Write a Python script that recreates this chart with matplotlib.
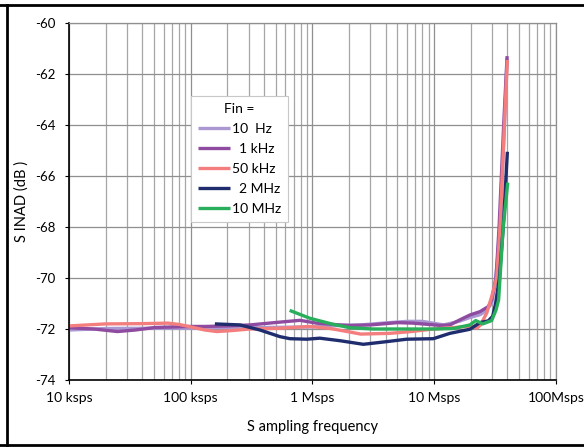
import matplotlib
matplotlib.use("Agg")
import matplotlib.pyplot as plt
from matplotlib.lines import Line2D
from matplotlib.ticker import FixedLocator, LogLocator, NullFormatter

plt.rcParams['font.family'] = ['Lato', 'DejaVu Sans']

# Sampling frequency (sps) and SINAD (dB) for each input frequency
fs_10hz = [10e3, 20e3, 50e3, 100e3, 131e3, 300e3, 600e3, 1e6, 1.7e6, 2.5e6, 4e6,
           6e6, 8e6, 12e6, 16e6, 19.7e6, 23.8e6, 26.6e6, 29.7e6, 31.5e6, 33e6,
           35e6, 37.5e6, 39.8e6]
db_10hz = [-72.04, -71.98, -71.97, -71.97, -71.95, -71.95, -71.93, -71.92, -71.86,
           -71.84, -71.76, -71.7, -71.7, -71.84, -71.7, -71.55, -71.44, -71.3,
           -71.0, -70.3, -69.4, -67.8, -64.5, -61.4]

fs_1khz = [10e3, 16e3, 25e3, 35e3, 51e3, 96e3, 131e3, 200e3, 307e3, 541e3, 791e3,
           1.08e6, 1.69e6, 2.04e6, 3e6, 5e6, 6.7e6, 9e6, 11.2e6, 13.5e6, 16.3e6,
           19.7e6, 23.8e6, 27.9e6, 29.7e6, 32.3e6, 34.2e6, 37.3e6, 39.8e6]
db_1khz = [-71.95, -72.0, -72.1, -72.04, -71.94, -71.9, -71.9, -71.88, -71.84,
           -71.73, -71.66, -71.77, -71.84, -71.86, -71.84, -71.75, -71.77, -71.82,
           -71.86, -71.84, -71.64, -71.45, -71.32, -71.12, -70.86, -70.0, -68.0,
           -64.0, -61.3]

fs_50khz = [10e3, 20e3, 40e3, 65e3, 80e3, 96e3, 131e3, 164e3, 220e3, 307e3, 541e3,
            955e3, 1.4e6, 2.04e6, 2.5e6, 4.34e6, 6.5e6, 9.85e6, 14e6, 18.5e6,
            20.5e6, 22.4e6, 24e6, 27.1e6, 29.7e6, 32.7e6, 34.8e6, 37.8e6, 40e6]
db_50khz = [-71.88, -71.8, -71.79, -71.77, -71.82, -71.9, -72.04, -72.1, -72.06,
            -72.0, -71.97, -71.9, -71.98, -72.12, -72.2, -72.17, -72.1, -72.0,
            -71.95, -71.9, -71.88, -71.97, -71.85, -71.37, -70.73, -70.0, -68.0,
            -64.0, -61.45]

fs_2mhz = [158e3, 254e3, 371e3, 541e3, 654e3, 900e3, 1.15e6, 1.69e6, 2.62e6,
           4e6, 5.96e6, 9.85e6, 13.5e6, 19.7e6, 23.8e6, 27.9e6, 30.3e6, 32e6,
           34.4e6, 37e6, 40e6]
db_2mhz = [-71.8, -71.84, -72.04, -72.3, -72.38, -72.4, -72.36, -72.46, -72.6,
           -72.5, -72.4, -72.38, -72.17, -72.01, -71.75, -71.68, -71.5, -71.0,
           -70.0, -68.0, -65.05]

fs_10mhz = [650e3, 955e3, 1.49e6, 2.04e6, 3.16e6, 9.85e6, 14.4e6, 19.7e6, 22e6,
            25.1e6, 29.7e6, 32.3e6, 33.9e6, 34.8e6, 37e6, 40.3e6]
db_10mhz = [-71.27, -71.58, -71.82, -71.95, -72.0, -72.0, -71.98, -71.84, -71.67,
            -71.8, -71.67, -71.25, -70.86, -70.0, -68.0, -66.26]

series_labels = ["10  Hz", "  1 kHz", "50 kHz", "  2 MHz", "10 MHz"]
series_colors = ["#AB98D3", "#8E4BA0", "#F47E7E", "#1F2D6E", "#29AF5B"]

y_ticks = [-74, -72, -70, -68, -66, -64, -62, -60]
x_ticks = [1e4, 1e5, 1e6, 1e7, 1e8]
x_tick_labels = ["10 ksps", "100 ksps", "1 Msps", "10 Msps", "100Msps"]

fig = plt.figure(figsize=(5.84, 4.47), dpi=100)
ax = fig.add_axes([69 / 584, 1 - 380 / 447, (555.8 - 69) / 584, (380 - 23) / 447])

data = [(fs_10hz, db_10hz), (fs_1khz, db_1khz), (fs_50khz, db_50khz),
        (fs_2mhz, db_2mhz), (fs_10mhz, db_10mhz)]
for (fs, db), lab, col in zip(data, series_labels, series_colors):
    ax.plot(fs, db, color=col, lw=2.4, label=lab, solid_capstyle='butt',
            solid_joinstyle='round')

ax.set_xscale('log')
ax.set_xlim(1e4, 1e8)
ax.set_ylim(-74, -60)

ax.xaxis.set_major_locator(FixedLocator(x_ticks))
ax.set_xticklabels(x_tick_labels)
ax.xaxis.set_minor_locator(LogLocator(base=10, subs=range(2, 10)))
ax.xaxis.set_minor_formatter(NullFormatter())
ax.set_yticks(y_ticks)
ax.set_yticklabels([str(v) for v in y_ticks])

ax.tick_params(axis='both', which='major', length=3, width=0.8, color='black',
               labelsize=10, pad=5.5)
ax.tick_params(axis='y', which='major', labelsize=9.5, pad=6.5)
ax.tick_params(axis='x', which='minor', length=0)

ax.grid(True, which='major', axis='both', color='#8f8f8f', lw=0.9)
ax.grid(True, which='minor', axis='x', color='#a6a6a6', lw=0.9)
ax.set_axisbelow(True)

for side in ('top', 'right'):
    ax.spines[side].set_color('#8f8f8f')
    ax.spines[side].set_linewidth(0.9)
for side in ('left', 'bottom'):
    ax.spines[side].set_color('black')
    ax.spines[side].set_linewidth(1.2)

ax.set_xlabel("S ampling frequency", fontsize=10.5, labelpad=12)
ax.set_ylabel("S INAD (dB )", fontsize=10.5, labelpad=5)

leg = ax.legend(title="Fin =", loc='upper left', bbox_to_anchor=(0.2506, 0.7955),
                fontsize=10, title_fontsize=10, frameon=True, fancybox=False,
                edgecolor='#c8c8c8', framealpha=1, handlelength=2.3,
                handletextpad=0.15, labelspacing=0.58, borderpad=0.5,
                borderaxespad=0)
leg.get_frame().set_linewidth(0.8)

# Page frame lines
fig.add_artist(Line2D([0, 1], [1 - 5 / 447, 1 - 5 / 447], color='black', lw=2,
                      transform=fig.transFigure))
fig.add_artist(Line2D([7 / 584, 7 / 584], [0, 1 - 5 / 447], color='black', lw=2,
                      transform=fig.transFigure))
fig.add_artist(Line2D([0, 1], [2 / 447, 2 / 447], color='black', lw=2,
                      transform=fig.transFigure))

fig.savefig("out.png", dpi=100)
